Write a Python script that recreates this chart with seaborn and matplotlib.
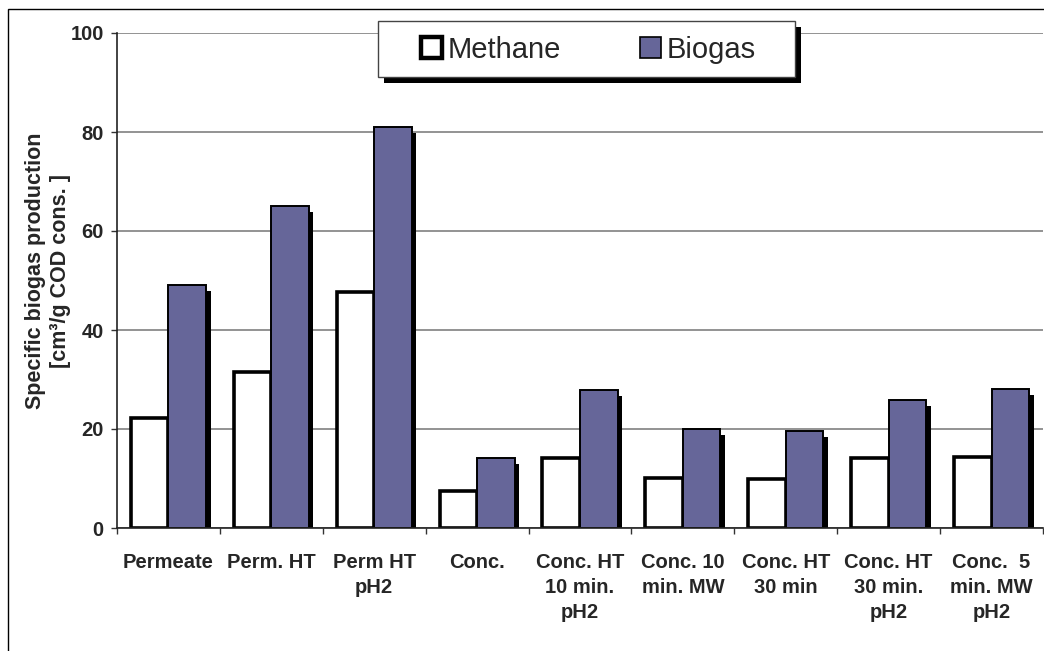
import numpy as np
import pandas as pd
import matplotlib
matplotlib.use("Agg")
import matplotlib.pyplot as plt
import seaborn as sns
from matplotlib import patheffects as pe
from matplotlib.patches import Patch, Rectangle

categories = ["Permeate", "Perm. HT", "Perm HT\npH2", "Conc.",
              "Conc. HT\n10 min.\npH2", "Conc. 10\nmin. MW", "Conc. HT\n30 min",
              "Conc. HT\n30 min.\npH2", "Conc.  5\nmin. MW\npH2"]
methane = [22.2, 31.6, 47.6, 7.4, 14.1, 10.1, 9.9, 14.1, 14.3]
biogas = [49.1, 65.1, 81.0, 14.2, 27.9, 20.0, 19.5, 25.9, 28.0]
series_names = ["Methane", "Biogas"]
y_ticks = [0, 20, 40, 60, 80, 100]
ylabel = "Specific biogas production\n[cm³/g COD cons. ]"

PURPLE = "#666699"

sns.set_theme(style="white")
plt.rcParams["font.family"] = ["Liberation Sans", "DejaVu Sans"]

df = pd.DataFrame({
    "category": categories * 2,
    "value": methane + biogas,
    "gas": [series_names[0]] * len(categories) + [series_names[1]] * len(categories),
})

W, H = 1044, 651
fig = plt.figure(figsize=(W / 100, H / 100), dpi=100)
ax = fig.add_axes([117 / W, 1 - 528 / H, (1043 - 117) / W, (528 - 33) / H])

sns.barplot(data=df, x="category", y="value", hue="gas", order=categories,
            hue_order=series_names,
            palette={"Methane": "white", "Biogas": PURPLE},
            saturation=1, width=0.73, gap=0, edgecolor="black",
            legend=False, ax=ax, zorder=3)

shadow = [pe.SimplePatchShadow(offset=(3.3, -4.3), shadow_rgbFace="black", alpha=1), pe.Normal()]
for bar in ax.containers[0]:
    bar.set_linewidth(2.6)
    bar.set_path_effects(shadow)
for bar in ax.containers[1]:
    bar.set_linewidth(1.4)
    bar.set_path_effects(shadow)

ax.set_ylim(0, 100)
ax.set_xlim(-0.5, len(categories) - 0.5)
ax.set_yticks(y_ticks)
ax.set_yticklabels([str(t) for t in y_ticks], fontsize=14.5, fontweight="bold")
ax.yaxis.grid(True, color="#808080", linewidth=1.2, zorder=0)
ax.set_axisbelow(True)
ax.tick_params(axis="y", which="major", direction="out", length=4.5, width=1.0,
               color="#333333", pad=5, left=True)

ax.set_xticks(range(len(categories)))
ax.set_xticklabels(categories, fontsize=14.5, fontweight="bold", linespacing=1.4)
ax.set_xticks(np.arange(-0.5, len(categories), 1.0), minor=True)
ax.tick_params(axis="x", which="major", length=0, pad=18)
ax.tick_params(axis="x", which="minor", direction="out", length=4.5, width=1.0,
               color="#333333", bottom=True)
ax.set_xlabel("")

for s in ["top", "right"]:
    ax.spines[s].set_visible(False)
for s in ["left", "bottom"]:
    ax.spines[s].set_color("#222222")
    ax.spines[s].set_linewidth(1.2)
    ax.spines[s].set_zorder(4)

ax.set_ylabel(ylabel, fontsize=15.5, fontweight="bold", linespacing=1.2)
ax.yaxis.set_label_coords(-0.05, 0.52)

# outer frame of the chart area
fig.patches.append(Rectangle((8 / W, -0.2), 1.2, 1.2 - 9 / H, transform=fig.transFigure,
                             facecolor="none", edgecolor="black", linewidth=1.0,
                             clip_on=False, zorder=10))

# legend box with shadow
box = Rectangle((378 / W, 1 - 77 / H), (795 - 378) / W, (77 - 21) / H,
                transform=fig.transFigure, facecolor="white", edgecolor="#444444",
                linewidth=1.0, zorder=20)
box.set_path_effects([pe.SimplePatchShadow(offset=(4.3, -4.3), shadow_rgbFace="black", alpha=1),
                      pe.Normal()])
fig.patches.append(box)

handles = [Patch(facecolor="white", edgecolor="black", linewidth=3.2),
           Patch(facecolor=PURPLE, edgecolor="black", linewidth=1.2)]
leg = fig.legend(handles, series_names, loc="center",
                 bbox_to_anchor=(588 / W, 1 - 50 / H), ncol=2, frameon=False,
                 fontsize=21, handlelength=0.72, handleheight=0.72,
                 handletextpad=0.2, columnspacing=2.7, borderpad=0)
leg.set_zorder(30)

fig.savefig("out.png", dpi=100)
